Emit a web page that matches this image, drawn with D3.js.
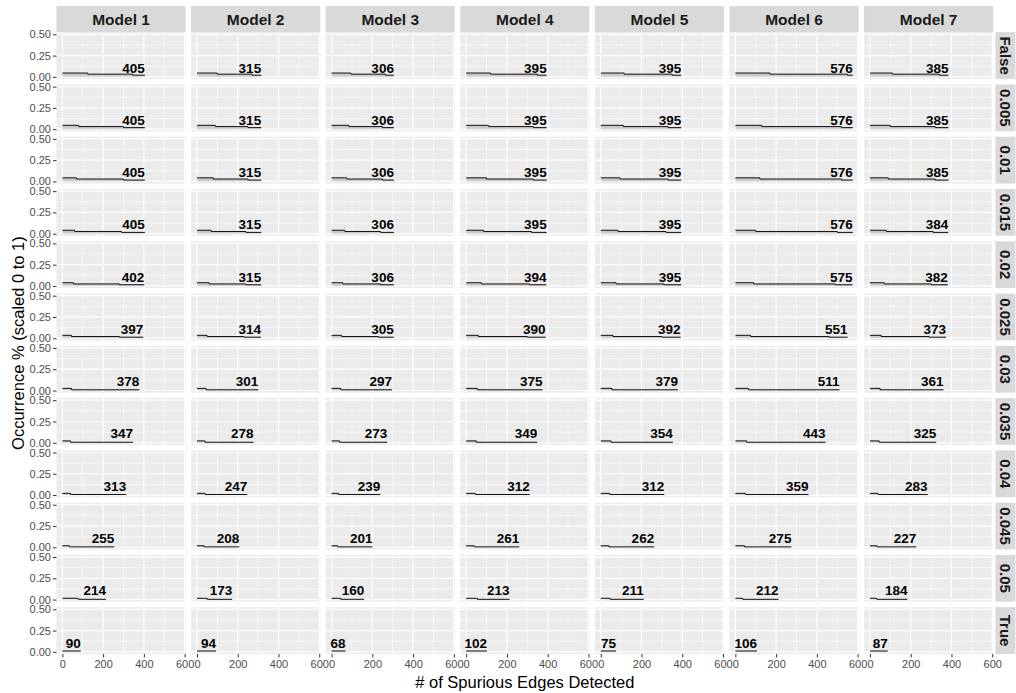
<!DOCTYPE html>
<html>
<head>
<meta charset="utf-8">
<script src="https://cdn.jsdelivr.net/npm/d3@7"></script>
<style>
  html, body { margin: 0; padding: 0; background: #ffffff; }
  svg { display: block; font-family: "Liberation Sans", Arial, Helvetica, sans-serif; }
</style>
</head>
<body>
<svg id="chart" width="1016" height="693"></svg>
<script>
// Facet columns (models) and facet rows (threshold settings)
const models = ["Model 1", "Model 2", "Model 3", "Model 4", "Model 5", "Model 6", "Model 7"];
const thresholds = ["False", "0.005", "0.01", "0.015", "0.02", "0.025", "0.03", "0.035", "0.04", "0.045", "0.05", "True"];

// Largest number of spurious edges detected, per threshold row and model
const maxEdges = [
  [405, 315, 306, 395, 395, 576, 385],
  [405, 315, 306, 395, 395, 576, 385],
  [405, 315, 306, 395, 395, 576, 385],
  [405, 315, 306, 395, 395, 576, 384],
  [402, 315, 306, 394, 395, 575, 382],
  [397, 314, 305, 390, 392, 551, 373],
  [378, 301, 297, 375, 379, 511, 361],
  [347, 278, 273, 349, 354, 443, 325],
  [313, 247, 239, 312, 312, 359, 283],
  [255, 208, 201, 261, 262, 275, 227],
  [214, 173, 160, 213, 211, 212, 184],
  [90, 94, 68, 102, 75, 106, 87]
];

// Edge counts where the occurrence curve drops to its next level
const firstDrop = [
  [125, 100, 95, 120, 115, 170, 110],
  [80, 90, 85, 110, 110, 130, 100],
  [70, 80, 75, 100, 95, 120, 90],
  [60, 70, 65, 85, 85, 100, 80],
  [55, 60, 55, 75, 75, 90, 70],
  [45, 50, 50, 60, 60, 75, 55],
  [45, 45, 45, 55, 55, 65, 50],
  [40, 40, 40, 50, 50, 55, 45],
  [40, 40, 35, 45, 45, 50, 40],
  [35, 35, 30, 40, 40, 45, 35],
  [78, 50, 45, 55, 46, 36, 33],
  [0, 0, 0, 0, 0, 0, 0]
];
const secondDrop = [
  [345, 270, 265, 350, 350, 550, 340],
  [300, 250, 250, 330, 330, 520, 320],
  [300, 250, 250, 330, 330, 520, 320],
  [290, 240, 240, 320, 320, 500, 310],
  [280, 240, 240, 310, 310, 490, 300],
  [280, 230, 230, 300, 300, 460, 290],
  [378, 301, 297, 375, 379, 511, 361],
  [347, 278, 273, 349, 354, 443, 325],
  [313, 247, 239, 312, 312, 359, 283],
  [255, 208, 201, 261, 262, 275, 227],
  [214, 173, 160, 213, 211, 212, 184],
  [90, 94, 68, 102, 75, 106, 87]
];

// Occurrence (scaled 0 to 1) on each stretch of the curve, per threshold row
const occurrenceLevels = [
  [0.045, 0.032, 0.020],
  [0.045, 0.030, 0.018],
  [0.042, 0.028, 0.016],
  [0.040, 0.026, 0.015],
  [0.038, 0.024, 0.014],
  [0.034, 0.020, 0.012],
  [0.025, 0.008, 0.008],
  [0.022, 0.006, 0.006],
  [0.020, 0.006, 0.006],
  [0.018, 0.005, 0.005],
  [0.015, 0.003, 0.003],
  [0.010, 0.010, 0.010]
];

const xTicks = [0, 200, 400, 600];
const yTicks = [0, 0.25, 0.5];

// ---- layout ----
const svg = d3.select("#chart");
const gridLeft = 56.5, gridTop = 32.2, stripH = 26.2;
const panelW = 129.1, panelH = 46.8, gapX = 5.5, gapY = 5.47;
const rightStripW = 20, rightStripPad = 2.2;

const x = d3.scaleLinear().domain([-28.8, 604.8]).range([0, panelW]);
const y = d3.scaleLinear().domain([-0.025, 0.525]).range([panelH, 0]);

const xMinor = [100, 300, 500];
const yMinor = [0.125, 0.375];

const line = d3.line().x(d => x(d[0])).y(d => y(d[1])).curve(d3.curveStepAfter);
const area = d3.area().x(d => x(d[0])).y0(y(0)).y1(d => y(d[1])).curve(d3.curveStepAfter);

const panelX = c => gridLeft + c * (panelW + gapX);
const panelY = r => gridTop + r * (panelH + gapY);

// Column strips
models.forEach((m, c) => {
  const g = svg.append("g").attr("transform", `translate(${panelX(c)},${gridTop - stripH})`);
  g.append("rect").attr("width", panelW).attr("height", stripH).attr("fill", "#D9D9D9");
  g.append("text").attr("x", panelW / 2).attr("y", stripH / 2 + 5.6)
    .attr("text-anchor", "middle").attr("font-size", 15.5).attr("font-weight", "bold")
    .attr("fill", "#1A1A1A").text(m);
});

// Row strips
thresholds.forEach((t, r) => {
  const sx = panelX(6) + panelW + rightStripPad;
  const g = svg.append("g").attr("transform", `translate(${sx},${panelY(r)})`);
  g.append("rect").attr("width", rightStripW).attr("height", panelH).attr("fill", "#D9D9D9");
  g.append("text")
    .attr("transform", `translate(${rightStripW / 2 - 5.2},${panelH / 2}) rotate(90)`)
    .attr("text-anchor", "middle").attr("font-size", 15).attr("font-weight", "bold")
    .attr("fill", "#1A1A1A").text(t);
});

// Panels
thresholds.forEach((t, r) => {
  models.forEach((m, c) => {
    const g = svg.append("g").attr("transform", `translate(${panelX(c)},${panelY(r)})`);
    g.append("rect").attr("width", panelW).attr("height", panelH).attr("fill", "#EBEBEB");

    xMinor.forEach(v => g.append("line").attr("x1", x(v)).attr("x2", x(v)).attr("y1", 0).attr("y2", panelH)
      .attr("stroke", "#fff").attr("stroke-width", 0.6));
    yMinor.forEach(v => g.append("line").attr("x1", 0).attr("x2", panelW).attr("y1", y(v)).attr("y2", y(v))
      .attr("stroke", "#fff").attr("stroke-width", 0.6));
    xTicks.forEach(v => g.append("line").attr("x1", x(v)).attr("x2", x(v)).attr("y1", 0).attr("y2", panelH)
      .attr("stroke", "#fff").attr("stroke-width", 1.2));
    yTicks.forEach(v => g.append("line").attr("x1", 0).attr("x2", panelW).attr("y1", y(v)).attr("y2", y(v))
      .attr("stroke", "#fff").attr("stroke-width", 1.2));

    const lv = occurrenceLevels[r];
    const mx = maxEdges[r][c];
    const pts = [[0, lv[0]], [firstDrop[r][c], lv[1]], [secondDrop[r][c], lv[2]], [mx, lv[2]]]
      .filter((p, i, a) => i === 0 || p[0] >= a[i - 1][0]);

    const isLast = r === thresholds.length - 1;
    g.append("path").datum(pts).attr("d", area).attr("fill", "#7F7F7F").attr("fill-opacity", isLast ? 0.6 : 0.3);
    g.append("path").datum(pts).attr("d", line).attr("fill", "none")
      .attr("stroke", isLast ? "#666" : "#111").attr("stroke-width", isLast ? 1.6 : 1);

    g.append("text").attr("x", x(mx)).attr("y", y(0.05))
      .attr("text-anchor", "end").attr("font-size", 13.5).attr("font-weight", "bold")
      .attr("fill", "#000").text(mx);
  });

  // y axis on the first column
  const ya = svg.append("g").attr("transform", `translate(${gridLeft},${panelY(r)})`)
    .call(d3.axisLeft(y).tickValues(yTicks).tickFormat(d3.format(".2f")).tickSize(3.5).tickPadding(2));
  ya.select(".domain").remove();
  ya.selectAll("line").attr("stroke", "#333").attr("stroke-width", 1);
  ya.selectAll("text").attr("fill", "#4D4D4D").attr("font-size", 11)
    .attr("font-family", "'Liberation Sans', Arial, sans-serif");
});

// x axes under the bottom row
models.forEach((m, c) => {
  const xa = svg.append("g").attr("transform", `translate(${panelX(c)},${panelY(thresholds.length - 1) + panelH})`)
    .call(d3.axisBottom(x).tickValues(xTicks).tickFormat(d3.format("d")).tickSize(3.5).tickPadding(3));
  xa.select(".domain").remove();
  xa.selectAll("line").attr("stroke", "#333").attr("stroke-width", 1);
  xa.selectAll("text").attr("fill", "#4D4D4D").attr("font-size", 11)
    .attr("font-family", "'Liberation Sans', Arial, sans-serif");
});

// Axis titles
const gridRight = panelX(6) + panelW;
const gridBottom = panelY(thresholds.length - 1) + panelH;
svg.append("text").attr("x", (gridLeft + gridRight) / 2).attr("y", 688)
  .attr("text-anchor", "middle").attr("font-size", 16.5).attr("fill", "#000")
  .text("# of Spurious Edges Detected");
svg.append("text").attr("transform", `translate(23.5,${(gridTop + gridBottom) / 2}) rotate(-90)`)
  .attr("text-anchor", "middle").attr("font-size", 16.5).attr("fill", "#000")
  .text("Occurrence % (scaled 0 to 1)");
</script>
</body>
</html>
